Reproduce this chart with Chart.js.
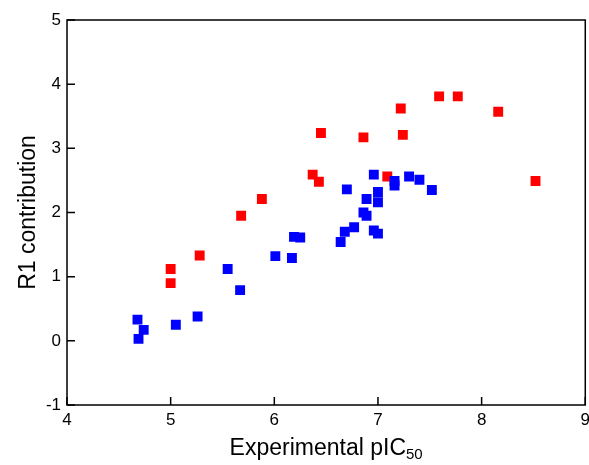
<!DOCTYPE html>
<html lang="en">
<head>
    <meta charset="UTF-8">
    <title>R1 contribution vs Experimental pIC50</title>
    <style>
        body {
            margin: 0;
            background: #fff;
            overflow: hidden; /* la etiqueta 9 queda cortada como en el original */
        }

        .chart-box {
            width: 595px;
            height: 465px;
        }
    </style>
</head>
<body>
    <div class="chart-box">
        <canvas id="scatterChart"></canvas>
    </div>

    <script src="https://cdn.jsdelivr.net/npm/chart.js"></script>
    <script>
        // Serie azul
        const xBlue = [4.68, 4.74, 4.69, 5.05, 5.26, 5.55, 5.67, 6.01, 6.17, 6.19, 6.25, 6.64, 6.68, 6.77,
            6.86, 6.89, 6.96, 7.00, 6.70, 6.89, 7.00, 7.00, 6.96, 7.16, 7.16, 7.30, 7.40, 7.52];
        const yBlue = [0.33, 0.17, 0.03, 0.25, 0.38, 1.12, 0.79, 1.32, 1.29, 1.62, 1.61, 1.54, 1.70, 1.77,
            2.00, 1.95, 1.72, 1.67, 2.36, 2.21, 2.32, 2.16, 2.59, 2.49, 2.42, 2.56, 2.51, 2.35];

        // Serie roja
        const xRed = [5.00, 5.00, 5.28, 5.68, 5.88, 6.37, 6.43, 6.45, 6.86, 7.09, 7.22, 7.24, 7.59, 7.77, 8.16, 8.52];
        const yRed = [1.12, 0.90, 1.33, 1.95, 2.21, 2.59, 2.48, 3.24, 3.17, 2.56, 3.62, 3.21, 3.81, 3.81, 3.57, 2.49];

        const xTicks = [4, 5, 6, 7, 8, 9];
        const yTicks = [-1, 0, 1, 2, 3, 4, 5];

        const fontFamily = "'Liberation Sans', Arial, sans-serif";

        function toPoints(xs, ys) {
            return xs.map((x, i) => ({ x: x, y: ys[i] }));
        }

        // Marco, ticks hacia dentro y titulos de ejes
        const framePlugin = {
            id: 'frame',
            afterDraw(chart) {
                const ctx = chart.ctx;
                const a = chart.chartArea;
                const xs = chart.scales.x;
                const ys = chart.scales.y;
                ctx.save();
                ctx.strokeStyle = '#000';
                ctx.lineWidth = 1.5;
                ctx.strokeRect(a.left, a.top, a.right - a.left, a.bottom - a.top);
                ctx.beginPath();
                xTicks.forEach(v => {
                    const px = xs.getPixelForValue(v);
                    ctx.moveTo(px, a.bottom);
                    ctx.lineTo(px, a.bottom - 8);
                });
                yTicks.forEach(v => {
                    const py = ys.getPixelForValue(v);
                    ctx.moveTo(a.left, py);
                    ctx.lineTo(a.left + 8, py);
                });
                ctx.stroke();

                ctx.fillStyle = '#000';
                // Titulo eje X con subindice
                const main = 'Experimental pIC';
                const sub = '50';
                ctx.font = '23px ' + fontFamily;
                const wMain = ctx.measureText(main).width;
                ctx.font = '15px ' + fontFamily;
                const wSub = ctx.measureText(sub).width;
                const startX = (a.left + a.right) / 2 - (wMain + wSub) / 2;
                ctx.textBaseline = 'alphabetic';
                ctx.textAlign = 'left';
                ctx.font = '23px ' + fontFamily;
                ctx.fillText(main, startX, 455);
                ctx.font = '15px ' + fontFamily;
                ctx.fillText(sub, startX + wMain, 459);

                // Titulo eje Y
                ctx.translate(35, (a.top + a.bottom) / 2);
                ctx.rotate(-Math.PI / 2);
                ctx.textAlign = 'center';
                ctx.font = '23px ' + fontFamily;
                ctx.fillText('R1 contribution', 0, 0);
                ctx.restore();
            }
        };

        const ctx = document.getElementById('scatterChart').getContext('2d');
        const scatterChart = new Chart(ctx, {
            type: 'scatter',
            data: {
                datasets: [{
                    label: 'Blue',
                    data: toPoints(xBlue, yBlue),
                    backgroundColor: '#0000ff',
                    borderWidth: 0,
                    pointStyle: 'rect',
                    pointRadius: 7
                }, {
                    label: 'Red',
                    data: toPoints(xRed, yRed),
                    backgroundColor: '#ff0000',
                    borderWidth: 0,
                    pointStyle: 'rect',
                    pointRadius: 7
                }]
            },
            options: {
                responsive: true,
                maintainAspectRatio: false,
                animation: false,
                layout: {
                    padding: { top: 20, right: 1, left: 0, bottom: 0 }
                },
                scales: {
                    x: {
                        type: 'linear',
                        min: 4,
                        max: 9,
                        afterFit(s) {
                            s.height = 60;
                        },
                        afterBuildTicks(s) {
                            s.ticks = xTicks.map(v => ({ value: v }));
                        },
                        grid: { display: false, drawTicks: false },
                        border: { display: false },
                        ticks: {
                            padding: 5,
                            color: '#000',
                            font: { size: 17, family: fontFamily }
                        }
                    },
                    y: {
                        type: 'linear',
                        min: -1,
                        max: 5,
                        afterFit(s) {
                            s.width = 67;
                        },
                        afterBuildTicks(s) {
                            s.ticks = yTicks.map(v => ({ value: v }));
                        },
                        grid: { display: false, drawTicks: false },
                        border: { display: false },
                        ticks: {
                            padding: 6,
                            color: '#000',
                            font: { size: 17, family: fontFamily }
                        }
                    }
                },
                plugins: {
                    legend: { display: false },
                    tooltip: { enabled: false }
                }
            },
            plugins: [framePlugin]
        });
    </script>
</body>
</html>
